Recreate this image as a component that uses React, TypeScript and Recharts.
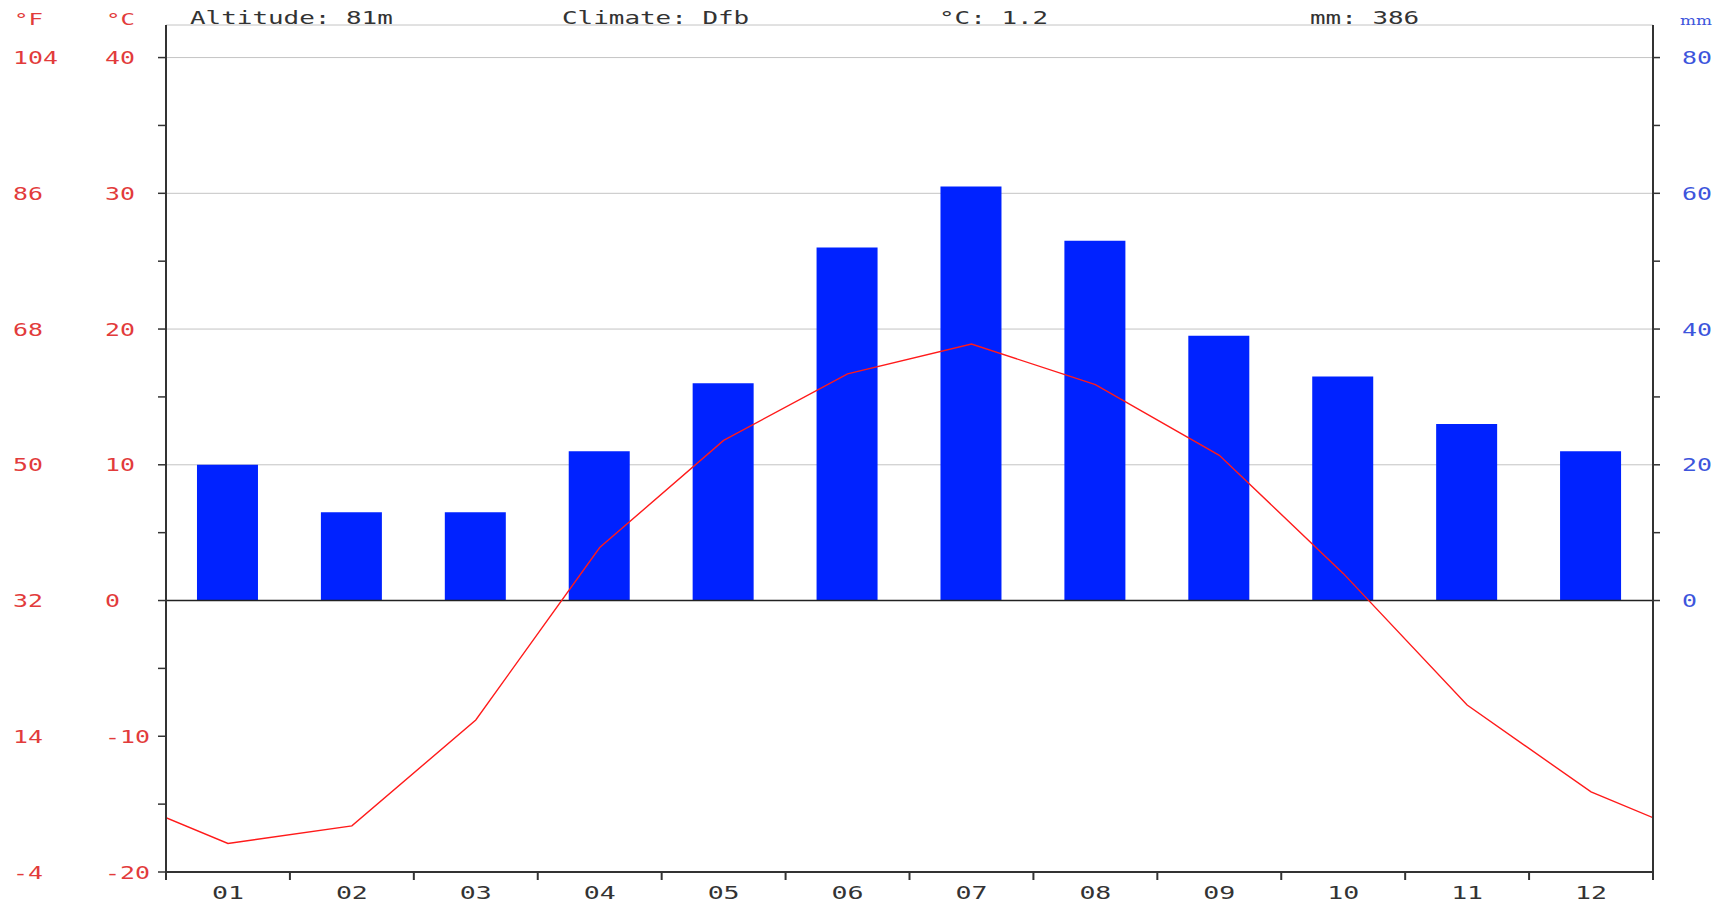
import React from "react";
import { ComposedChart, Bar, Line, XAxis, YAxis, CartesianGrid, ReferenceLine } from "recharts";

// Climate diagram: monthly precipitation (bars, mm) and mean temperature (line, °C)
const MONTHS = ["01", "02", "03", "04", "05", "06", "07", "08", "09", "10", "11", "12"];
const PRECIP_MM = [20, 13, 13, 22, 32, 52, 61, 53, 39, 33, 26, 22];
const TEMP_C = [-17.9, -16.6, -8.8, 3.9, 11.8, 16.7, 18.9, 15.9, 10.7, 2.0, -7.7, -14.1];
// the line runs on to both side axes, meeting them at this value
const EDGE_TEMP_C = -16.0;

const C_TICKS = [-20, -15, -10, -5, 0, 5, 10, 15, 20, 25, 30, 35, 40];
const C_GRID = [10, 20, 30, 40];
const MM_TICKS = [0, 10, 20, 30, 40, 50, 60, 70, 80];
const X_TICKS = [0, 0.5, 1, 1.5, 2, 2.5, 3, 3.5, 4, 4.5, 5, 5.5, 6, 6.5, 7, 7.5, 8, 8.5, 9, 9.5, 10, 10.5, 11, 11.5, 12];

const HEADER_TEXTS = ["Altitude: 81m", "Climate: Dfb", "°C: 1.2", "mm: 386"];

const C_DOMAIN: [number, number] = [-20, 42.4];
const MM_DOMAIN: [number, number] = [-40, 84.8];

const W = 1727;
const H = 903;
const HEADER_X = [190, 562, 939, 1310];
const FONT = "'DejaVu Sans Mono', monospace";
const RED = "#e23b3b";
const BLUE = "#3d55dc";
const AXIS = "#333";
const CHAR_W = 15;

const rows = [
  { x: 0, t: EDGE_TEMP_C },
  ...MONTHS.map((m, i) => ({ x: i + 0.5, month: m, mm: PRECIP_MM[i], t: TEMP_C[i] })),
  { x: 12, t: EDGE_TEMP_C },
];

function Label({ x, y, text, fill, size = 18, charW = CHAR_W, anchor = "start", family = FONT }: any) {
  const s = String(text);
  return (
    <text
      x={x}
      y={y}
      fill={fill}
      fontSize={size}
      fontFamily={family}
      textAnchor={anchor}
      dominantBaseline="central"
      textLength={s.length * charW}
      lengthAdjust="spacingAndGlyphs"
    >
      {s}
    </text>
  );
}

function XTick({ x, y, payload }: any) {
  const v = payload.value;
  if (Number.isInteger(v)) {
    return <line x1={x} x2={x} y1={y} y2={y + 8} stroke={AXIS} strokeWidth={2} />;
  }
  return <Label x={x} y={y + 20} text={MONTHS[Math.floor(v)]} fill={AXIS} anchor="middle" charW={16} />;
}

function CTick({ x, y, payload }: any) {
  const v = payload.value;
  const major = v % 10 === 0;
  return (
    <g>
      <line x1={x - 8} x2={x} y1={y} y2={y} stroke={AXIS} strokeWidth={1.5} />
      {major && <Label x={13} y={y} text={Math.round((v * 9) / 5 + 32)} fill={RED} />}
      {major && <Label x={105} y={y} text={v} fill={RED} />}
    </g>
  );
}

function MmTick({ x, y, payload }: any) {
  const v = payload.value;
  return (
    <g>
      <line x1={x} x2={x + 7} y1={y} y2={y} stroke={AXIS} strokeWidth={1.5} />
      {v % 20 === 0 && <Label x={x + 29} y={y} text={v} fill={BLUE} />}
    </g>
  );
}

export default function App() {
  return (
    <div style={{ position: "absolute", left: 0, top: 0, width: W, height: H, background: "#fff" }}>
      <ComposedChart width={W} height={H} data={rows} margin={{ top: 25, right: 0, bottom: 0, left: 0 }}>
        <XAxis
          dataKey="x"
          type="number"
          domain={[0, 12]}
          ticks={X_TICKS}
          interval={0}
          height={31}
          tickSize={0}
          tickMargin={0}
          tickLine={false}
          tick={<XTick />}
          axisLine={{ stroke: AXIS, strokeWidth: 2 }}
          allowDataOverflow
        />
        <YAxis
          yAxisId="c"
          orientation="left"
          width={166}
          domain={C_DOMAIN}
          ticks={C_TICKS}
          interval={0}
          tickSize={0}
          tickMargin={0}
          tickLine={false}
          tick={<CTick />}
          axisLine={{ stroke: AXIS, strokeWidth: 2 }}
          allowDataOverflow
        />
        <YAxis
          yAxisId="mm"
          orientation="right"
          width={74}
          domain={MM_DOMAIN}
          ticks={MM_TICKS}
          interval={0}
          tickSize={0}
          tickMargin={0}
          tickLine={false}
          tick={<MmTick />}
          axisLine={{ stroke: AXIS, strokeWidth: 2 }}
          allowDataOverflow
        />
        <YAxis yAxisId="grid" hide domain={C_DOMAIN} ticks={C_GRID} interval={0} allowDataOverflow />
        <CartesianGrid yAxisId="grid" vertical={false} stroke="#c4c4c4" strokeWidth={1} />
        <Bar yAxisId="mm" dataKey="mm" fill="#0022ff" barSize={61} isAnimationActive={false} />
        <ReferenceLine yAxisId="c" y={0} stroke="#222" strokeWidth={1.5} />
        <Line
          yAxisId="c"
          dataKey="t"
          type="linear"
          stroke="#ff1a1a"
          strokeWidth={1.4}
          dot={false}
          activeDot={false}
          connectNulls
          isAnimationActive={false}
        />
      </ComposedChart>
      <svg width={W} height={60} style={{ position: "absolute", left: 0, top: 0, pointerEvents: "none" }}>
        <Label x={14} y={19} text="°F" fill={RED} size={16} charW={14.5} />
        <Label x={106} y={19} text="°C" fill={RED} size={16} charW={14.5} />
        {HEADER_TEXTS.map((t, i) => (
          <Label key={t} x={HEADER_X[i]} y={18} text={t} fill={AXIS} size={17} charW={15.6} />
        ))}
        <Label x={1680} y={20} text="mm" fill={BLUE} size={13} charW={16} family="'DejaVu Serif', serif" />
      </svg>
    </div>
  );
}
